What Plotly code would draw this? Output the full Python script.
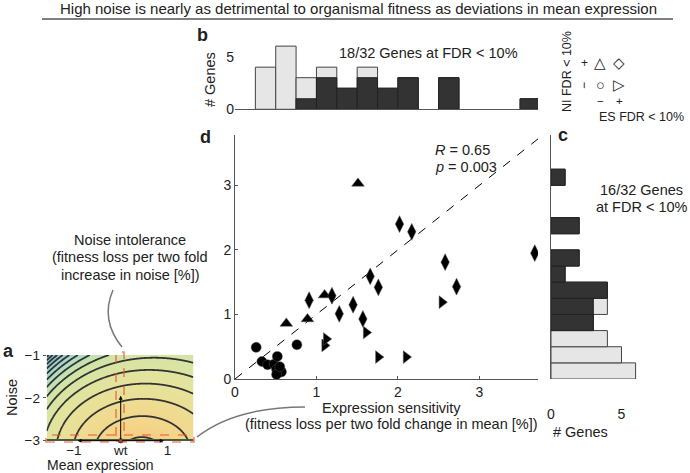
import numpy as np
import plotly.graph_objects as go

# ---------------- data ----------------
# panel d: expression sensitivity (ES) vs noise intolerance (NI)
circ_es = [0.26, 0.33, 0.40, 0.48, 0.52, 0.51, 0.57, 0.51, 0.55, 0.76]
circ_ni = [0.49, 0.27, 0.22, 0.23, 0.35, 0.15, 0.11, 0.07, 0.19, 0.53]
tri_es = [0.63, 0.89, 1.10, 1.51]
tri_ni = [0.86, 0.93, 1.30, 3.03]
dia_es = [0.91, 1.19, 1.28, 1.45, 1.57, 1.66, 1.76, 2.02, 2.17, 2.58, 2.72, 3.68]
dia_ni = [1.22, 1.29, 1.01, 1.15, 0.93, 1.59, 1.42, 2.40, 2.28, 1.81, 1.43, 1.95]
rtri_es = [1.10, 1.12, 1.61, 1.76, 2.10, 2.54]
rtri_ni = [0.52, 0.62, 0.72, 0.34, 0.34, 1.19]

bin_edges = np.arange(0, 4.0 + 1e-9, 0.25)
d_xticks = [0, 1, 2, 3]
d_yticks = [0, 1, 2, 3]
hist_ticks = [0, 5]

# panel a: schematic fitness landscape
land_x = np.linspace(-1.58, 1.55, 240)
land_y = np.linspace(-3.0, -1.0, 180)
peak_mean, peak_noise, noise_scale = 0.45, -3.25, 0.8
land_exp, steep_amp, steep_rate, left_skew = 1.3, 0.004, 1.6, 0.5
a_xticks = [-1, 0, 1]
a_xticktext = ["\u22121", "wt", "1"]
a_yticks = [-3, -2, -1]

# ---------------- helpers ----------------
W, H = 690, 473
def PX(x):
    return x / W
def PY(y):
    return 1 - y / H

all_es = np.array(circ_es + tri_es + dia_es + rtri_es)
all_ni = np.array(circ_ni + tri_ni + dia_ni + rtri_ni)
es_sig = np.array(dia_es + rtri_es)
ni_sig = np.array(tri_ni + dia_ni)

centers = (bin_edges[:-1] + bin_edges[1:]) / 2
es_tot, _ = np.histogram(all_es, bins=bin_edges)
es_dark, _ = np.histogram(es_sig, bins=bin_edges)
ni_tot, _ = np.histogram(all_ni, bins=bin_edges)
ni_dark, _ = np.histogram(ni_sig, bins=bin_edges)
nz = lambda a: [int(v) if v > 0 else None for v in a]

FONT = "Liberation Sans, Arial, Helvetica, sans-serif"
AX = "#555555"
FS = 14.5

fig = go.Figure()

# ---- panel d scatter ----
fig.add_trace(go.Scatter(x=[0, 3.8], y=[0, 3.8], mode="lines",
                         line=dict(color="black", width=1, dash="dash"),
                         xaxis="x", yaxis="y", hoverinfo="skip"))
for xs, ys, sym, sz in [(circ_es, circ_ni, "circle", 10),
                        (tri_es, tri_ni, "triangle-up", 11),
                        (dia_es, dia_ni, "diamond-tall", 12),
                        (rtri_es, rtri_ni, "triangle-right", 11)]:
    fig.add_trace(go.Scatter(x=xs, y=ys, mode="markers",
                             marker=dict(symbol=sym, size=sz, color="black",
                                         line=dict(color="#555", width=0.5)),
                             xaxis="x", yaxis="y"))

# ---- panel b histogram (ES) ----
fig.add_trace(go.Bar(x=centers, y=nz(es_tot), width=0.25, xaxis="x2", yaxis="y2",
                     marker=dict(color="#e6e6e6", line=dict(color="#444", width=1))))
fig.add_trace(go.Bar(x=centers, y=nz(es_dark), width=0.25, xaxis="x2", yaxis="y2",
                     marker=dict(color="#333333", line=dict(color="#222", width=1))))

# ---- panel c histogram (NI) ----
fig.add_trace(go.Bar(y=centers, x=nz(ni_tot), width=0.25, orientation="h",
                     xaxis="x3", yaxis="y3",
                     marker=dict(color="#e6e6e6", line=dict(color="#444", width=1))))
fig.add_trace(go.Bar(y=centers, x=nz(ni_dark), width=0.25, orientation="h",
                     xaxis="x3", yaxis="y3",
                     marker=dict(color="#333333", line=dict(color="#222", width=1))))

# ---- panel a landscape ----
XX, YY = np.meshgrid(land_x, land_y)
R = np.sqrt((XX - peak_mean) ** 2 + ((YY - peak_noise) / noise_scale) ** 2)
Z = -(R ** land_exp + steep_amp * np.exp(steep_rate * (R + left_skew * (peak_mean - XX))))
lvl0, lstep = 0.33, 0.73
fig.add_trace(go.Contour(
    x=land_x, y=land_y, z=Z, xaxis="x4", yaxis="y4", showscale=False,
    zmin=-10.0, zmax=0,
    colorscale=[[0, "#6cbde0"], [0.35, "#a8d9cc"], [0.55, "#d0e5a8"],
                [0.75, "#e6e39b"], [0.92, "#f3d68a"], [1, "#f6c77e"]],
    contours=dict(start=-(lvl0 + 15 * lstep), end=-lvl0, size=lstep, coloring="heatmap"),
    line=dict(color="#333333", width=1.8), hoverinfo="skip"))
fig.add_trace(go.Scatter(x=[0], y=[-3], mode="markers", xaxis="x4", yaxis="y4",
                         marker=dict(color="black", size=5), cliponaxis=False))

tick_common = dict(showgrid=False, zeroline=False, linecolor=AX, tickcolor=AX)
tf = dict(size=14, color="#222")
tfa = dict(size=13.5, color="#222")

fig.update_layout(
    width=W, height=H, margin=dict(l=0, r=0, t=0, b=0, autoexpand=False), autosize=False,
    paper_bgcolor="white", plot_bgcolor="rgba(0,0,0,0)",
    showlegend=False, barmode="overlay", font=dict(family=FONT, size=14, color="#222"),
    xaxis=dict(domain=[PX(235), PX(538)], range=[0, 3.72], anchor="y", tickfont=tf,
               tickvals=d_xticks, showline=True, ticks="inside", ticklen=3, **tick_common),
    yaxis=dict(domain=[PY(379), PY(135)], range=[0, 3.78], anchor="x", tickfont=tf,
               tickvals=d_yticks, showline=True, ticks="inside", ticklen=3, **tick_common),
    xaxis2=dict(domain=[PX(235), PX(538)], range=[0, 3.72], anchor="y2",
                showticklabels=False, showline=True, ticks="", **tick_common),
    yaxis2=dict(domain=[PY(109.3), PY(44)], range=[0, 6.2], anchor="x2", tickfont=tf,
                tickvals=hist_ticks, showline=False, ticks="", **tick_common),
    xaxis3=dict(domain=[PX(551), PX(645)], range=[0, 94 / 14.1], anchor="free", tickfont=tf,
                position=PY(404), tickvals=hist_ticks, showline=False, ticks="", **tick_common),
    yaxis3=dict(domain=[PY(379), PY(135)], range=[0, 3.78], anchor="x3",
                showticklabels=False, showline=True, ticks="", **tick_common),
    xaxis4=dict(domain=[PX(46.7), PX(193.3)], range=[-1.58, 1.55], anchor="y4", tickfont=tfa,
                tickvals=a_xticks, ticktext=a_xticktext, showline=False,
                ticks="", **tick_common),
    yaxis4=dict(domain=[PY(440.7), PY(355)], range=[-3, -1], anchor="x4", tickfont=tfa,
                tickvals=a_yticks, showline=False, ticks="outside", ticklen=3, **tick_common),
)

ann = []
def T(x, y, text, size=FS, angle=0, xanchor="center", bold=False, color="#222"):
    if bold:
        text = "<b>" + text + "</b>"
    ann.append(dict(x=PX(x), y=PY(y), xref="paper", yref="paper", text=text,
                    showarrow=False, xanchor=xanchor, yanchor="middle",
                    textangle=angle, font=dict(size=size, color=color, family=FONT)))

T(358, 9, "High noise is nearly as detrimental to organismal fitness as deviations in mean expression", 15)
T(8, 351, "a", 18, bold=True)
T(202, 35, "b", 18, bold=True)
T(563, 135, "c", 18, bold=True)
T(205, 137, "d", 18, bold=True)
T(428, 53, "18/32 Genes at FDR < 10%")
T(641, 190, "16/32 Genes")
T(641.5, 207, "at FDR < 10%")
T(433, 150, "<i>R</i> = 0.65", xanchor="left")
T(433, 167, "<i>p</i> = 0.003", xanchor="left")
T(567, 72, "NI FDR < 10%", 12.5, angle=-90)
T(584, 63, "+", 12)
T(600, 63, "\u25b3", 14.5)
T(619, 63, "\u25c7", 14.5)
T(584, 86, "\u2212", 12, angle=-90)
T(600, 85, "\u25cb", 14.5)
T(619, 85, "\u25b7", 14.5)
T(600, 101, "\u2212", 11.5)
T(619, 101, "+", 11.5)
T(641, 117, "ES FDR < 10%", 12.5)
T(391, 408, "Expression sensitivity")
T(391, 424, "(fitness loss per two fold change in mean [%])")
T(130, 240, "Noise intolerance")
T(130, 257, "(fitness loss per two fold")
T(130, 275, "increase in noise [%])")
T(210, 80, "# Genes", angle=-90)
T(580, 432, "# Genes")
T(12, 398, "Noise", angle=-90)
T(100, 465, "Mean expression", 14)

# arrows in panel a
for (x1, y1) in [(0, -1.95), (-0.92, -3), (0.92, -3)]:
    ann.append(dict(x=x1, y=y1, ax=0, ay=-3, xref="x4", yref="y4", axref="x4", ayref="y4",
                    text="", showarrow=True, arrowhead=2, arrowsize=0.8, arrowwidth=1,
                    arrowcolor="black"))
fig.update_layout(annotations=ann)

shapes = [
    dict(type="line", xref="paper", yref="paper", x0=PX(42), x1=PX(673), y0=PY(19), y1=PY(19),
         line=dict(color="#555", width=1.5)),
    dict(type="path", xref="paper", yref="paper",
         path=f"M {PX(113)},{PY(290)} Q {PX(100)},{PY(320)} {PX(122)},{PY(347)}",
         line=dict(color="#777", width=1.5)),
    dict(type="path", xref="paper", yref="paper",
         path=f"M {PX(197)},{PY(437)} Q {PX(235)},{PY(407)} {PX(305)},{PY(407)}",
         line=dict(color="#777", width=1.5)),
    dict(type="line", xref="paper", yref="paper", x0=PX(46.7), x1=PX(193.3), y0=PY(440), y1=PY(440),
         line=dict(color="#4a5a3a", width=2)),
    dict(type="rect", xref="paper", yref="paper", x0=PX(116), x1=PX(124), y0=PY(441), y1=PY(352),
         line=dict(color="#e4572e", width=1.1, dash="dash")),
    dict(type="rect", xref="paper", yref="paper", x0=PX(46), x1=PX(194), y0=PY(442), y1=PY(435),
         line=dict(color="#e4572e", width=1.1, dash="dash")),
]
fig.update_layout(shapes=shapes)

fig.write_html("out.html",
               config={"displayModeBar": False, "responsive": False},
               post_script="document.documentElement.style.margin='0px';"
                           "document.body.style.margin='0px';document.body.style.padding='0px';"
                           "document.body.style.overflow='hidden';")
